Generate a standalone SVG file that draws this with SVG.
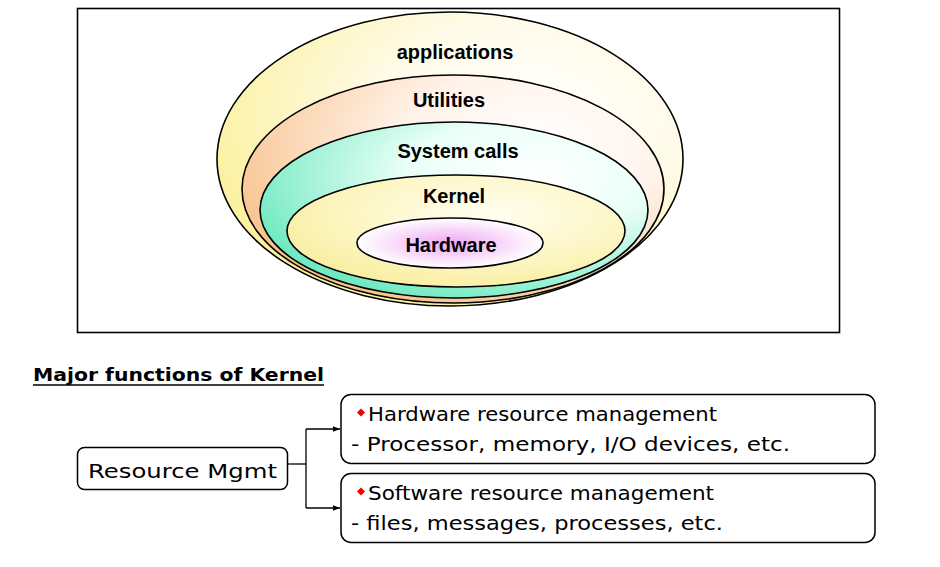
<svg xmlns="http://www.w3.org/2000/svg" width="940" height="567" viewBox="0 0 940 567">
<style>
.ell{stroke:#000;stroke-width:1.6}
.lbl{font-family:"Liberation Sans",Arial,sans-serif;font-weight:bold;font-size:20px;text-anchor:middle;fill:#000}
.box{fill:#fff;stroke:#000;stroke-width:1.5}
.txt{font-family:"DejaVu Sans","Liberation Sans",sans-serif;font-size:19px;fill:#000}
.conn{fill:none;stroke:#000;stroke-width:1.3}
</style>
<defs>
<radialGradient id="gApp" cx="0.68" cy="0.35" r="0.75">
<stop offset="0" stop-color="#ffffff"/><stop offset="0.45" stop-color="#fffbe8"/><stop offset="1" stop-color="#fbf09a"/>
</radialGradient>
<radialGradient id="gUtil" cx="0.7" cy="0.3" r="0.8">
<stop offset="0" stop-color="#ffffff"/><stop offset="0.4" stop-color="#fff3ea"/><stop offset="1" stop-color="#f8c088"/>
</radialGradient>
<radialGradient id="gSys" cx="0.7" cy="0.3" r="0.8">
<stop offset="0" stop-color="#ffffff"/><stop offset="0.4" stop-color="#eafff8"/><stop offset="1" stop-color="#66e8bc"/>
</radialGradient>
<radialGradient id="gKer" cx="0.6" cy="0.35" r="0.75">
<stop offset="0" stop-color="#fffef0"/><stop offset="0.5" stop-color="#fdf7c8"/><stop offset="1" stop-color="#f8ec98"/>
</radialGradient>
<radialGradient id="gHw" cx="0.5" cy="0.5" r="0.5">
<stop offset="0" stop-color="#eea6f2"/><stop offset="0.6" stop-color="#f8dcfa"/><stop offset="1" stop-color="#ffffff"/>
</radialGradient>
<marker id="arr" viewBox="0 0 10 10" refX="10" refY="5" markerWidth="7" markerHeight="7" markerUnits="userSpaceOnUse" orient="auto">
<path d="M0,1 L10,5 L0,9 Z" fill="#000"/>
</marker>
</defs>
<rect x="77.5" y="8.5" width="762" height="324" fill="#fff" stroke="#000" stroke-width="1.6"/>
<g id="applications">
<ellipse class="ell" cx="450" cy="159" rx="233" ry="147" fill="url(#gApp)"/>
<text class="lbl" x="455" y="59">applications</text>
</g>
<g id="utilities">
<ellipse class="ell" cx="453" cy="189" rx="211" ry="114" fill="url(#gUtil)"/>
<text class="lbl" x="449" y="107">Utilities</text>
</g>
<g id="system-calls">
<ellipse class="ell" cx="454" cy="210" rx="194" ry="88" fill="url(#gSys)"/>
<text class="lbl" x="458" y="158">System calls</text>
</g>
<g id="kernel">
<ellipse class="ell" cx="456" cy="231" rx="169" ry="56" fill="url(#gKer)"/>
<text class="lbl" x="454" y="203">Kernel</text>
</g>
<g id="hardware">
<ellipse class="ell" cx="450" cy="243" rx="93" ry="25" fill="url(#gHw)"/>
<text class="lbl" x="451" y="252">Hardware</text>
</g>
<g id="title">
<text x="33" y="381" font-family="DejaVu Sans,'Liberation Sans',sans-serif" font-weight="bold" font-size="18" textLength="291" lengthAdjust="spacingAndGlyphs" fill="#000">Major functions of Kernel</text>
<line x1="33" y1="385" x2="324" y2="385" stroke="#000" stroke-width="1.6"/>
</g>
<g id="resource-mgmt">
<rect class="box" x="77.5" y="447.5" width="210" height="42" rx="7"/>
<text class="txt" x="88" y="478" font-size="24" textLength="189" lengthAdjust="spacingAndGlyphs">Resource Mgmt</text>
</g>
<g id="hw-mgmt">
<rect class="box" x="341" y="394.5" width="534" height="69" rx="10"/>
<path d="M361,408.5 L365,412.5 L361,416.5 L357,412.5 Z" fill="#e00"/>
<text class="txt" x="368" y="421" textLength="349" lengthAdjust="spacingAndGlyphs">Hardware resource management</text>
<text class="txt" x="351" y="451" textLength="439" lengthAdjust="spacingAndGlyphs">- Processor, memory, I/O devices, etc.</text>
</g>
<g id="sw-mgmt">
<rect class="box" x="341" y="473.5" width="534" height="69" rx="10"/>
<path d="M361,487.5 L365,491.5 L361,495.5 L357,491.5 Z" fill="#e00"/>
<text class="txt" x="368" y="500" textLength="346" lengthAdjust="spacingAndGlyphs">Software resource management</text>
<text class="txt" x="351" y="530" textLength="372" lengthAdjust="spacingAndGlyphs">- files, messages, processes, etc.</text>
</g>
<g id="connectors">
<path class="conn" d="M288,464 H306"/>
<path class="conn" d="M306,429 V508"/>
<path class="conn" d="M306,429 H340" marker-end="url(#arr)"/>
<path class="conn" d="M306,508 H340" marker-end="url(#arr)"/>
</g>
</svg>
